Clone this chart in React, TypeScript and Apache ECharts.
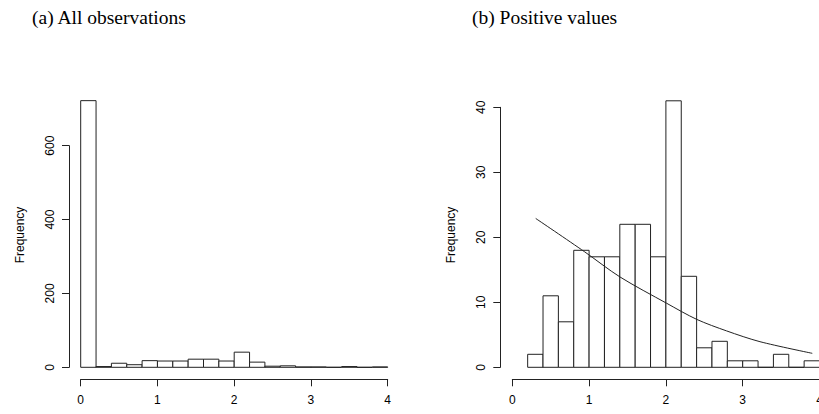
import React, { useEffect, useRef } from "react";
import * as echarts from "echarts";

// Histogram (a): all observations, bins of width 0.2 from 0 to 4
const binsAllLo = [0, 0.2, 0.4, 0.6, 0.8, 1.0, 1.2, 1.4, 1.6, 1.8, 2.0, 2.2, 2.4, 2.6, 2.8, 3.0, 3.2, 3.4, 3.6, 3.8];
const countsAll = [722, 2, 11, 7, 18, 17, 17, 22, 22, 17, 41, 14, 3, 4, 1, 1, 0, 2, 0, 1];

// Histogram (b): positive values, bins of width 0.2 from 0.2 to 4
const binsPosLo = [0.2, 0.4, 0.6, 0.8, 1.0, 1.2, 1.4, 1.6, 1.8, 2.0, 2.2, 2.4, 2.6, 2.8, 3.0, 3.2, 3.4, 3.6, 3.8];
const countsPos = [2, 11, 7, 18, 17, 17, 22, 22, 17, 41, 14, 3, 4, 1, 1, 0, 2, 0, 1];
const binWidth = 0.2;

// Fitted curve in (b)
const curveX = [0.305, 0.938, 1.402, 2.01, 2.4, 2.79, 3.225, 3.906];
const curveY = [22.9, 17.8, 13.9, 9.85, 7.38, 5.6, 3.94, 2.15];

const xTicks = [0, 1, 2, 3, 4];
const yTicksAll = [0, 200, 400, 600];
const yTicksPos = [0, 10, 20, 30, 40];

const titleA = "(a) All observations";
const titleB = "(b) Positive values";
const yName = "Frequency";

const INK = "#222222";
const SANS = "Liberation Sans, Arial, Helvetica, sans-serif";
const SERIF = "Liberation Serif, serif";

function histRender(params: any, api: any) {
  const x0 = api.value(0);
  const x1 = api.value(1);
  const h = api.value(2);
  const p0 = api.coord([x0, 0]);
  const p1 = api.coord([x1, h]);
  return {
    type: "rect",
    shape: { x: p0[0], y: p1[1], width: p1[0] - p0[0], height: p0[1] - p1[1] },
    style: { fill: "#ffffff", stroke: INK, lineWidth: 1 },
  };
}

export default function App() {
  const ref = useRef<HTMLDivElement>(null);
  useEffect(() => {
    document.body.style.margin = "0";
    if (!ref.current) return;
    const chart = echarts.init(ref.current, undefined, { renderer: "svg" });

    const dataAll = binsAllLo.map((lo, i) => [lo, lo + binWidth, countsAll[i]]);
    const dataPos = binsPosLo.map((lo, i) => [lo, lo + binWidth, countsPos[i]]);
    const curve = curveX.map((x, i) => [x, curveY[i]]);

    const xAxisBase = (gridIndex: number) => ({
      type: "value" as const,
      gridIndex,
      min: xTicks[0],
      max: xTicks[xTicks.length - 1],
      interval: 1,
      offset: 12,
      axisLine: { show: true, onZero: false, lineStyle: { color: INK, width: 1 } },
      axisTick: { show: true, length: 7, lineStyle: { color: INK, width: 1 } },
      axisLabel: { show: true, margin: 15, color: "#000", fontSize: 12, fontFamily: SANS, showMaxLabel: true, showMinLabel: true, hideOverlap: false },
      splitLine: { show: false },
    });

    const yAxisBase = (gridIndex: number, ticks: number[], offset: number, margin: number) => ({
      type: "value" as const,
      gridIndex,
      min: ticks[0],
      max: ticks[ticks.length - 1],
      interval: ticks[1] - ticks[0],
      offset,
      axisLine: { show: true, onZero: false, lineStyle: { color: INK, width: 1 } },
      axisTick: { show: true, length: 7, lineStyle: { color: INK, width: 1 } },
      axisLabel: { show: true, rotate: 90, margin, color: "#000", fontSize: 12, fontFamily: SANS },
      splitLine: { show: false },
    });

    chart.setOption({
      animation: false,
      backgroundColor: "#ffffff",
      grid: [
        { left: 80.7, right: 431.3, top: 145.7, bottom: 46.7, containLabel: false, outerBoundsMode: "none" },
        { left: 512.3, right: -0.5, top: 107.3, bottom: 46.7, containLabel: false, outerBoundsMode: "none" },
      ],
      xAxis: [xAxisBase(0), xAxisBase(1)],
      yAxis: [yAxisBase(0, yTicksAll, 11.7, 13), yAxisBase(1, yTicksPos, 12, 13)],
      graphic: [
        { type: "text", x: 32, y: 17, style: { text: titleA, font: `19.5px ${SERIF}`, fill: "#000", verticalAlign: "middle" } },
        { type: "text", x: 472, y: 17, style: { text: titleB, font: `19.5px ${SERIF}`, fill: "#000", verticalAlign: "middle" } },
        {
          type: "text", x: 20, y: 235, rotation: Math.PI / 2,
          style: { text: yName, font: `12px ${SANS}`, fill: "#000", align: "center", verticalAlign: "middle" },
        },
        {
          type: "text", x: 451, y: 235, rotation: Math.PI / 2,
          style: { text: yName, font: `12px ${SANS}`, fill: "#000", align: "center", verticalAlign: "middle" },
        },
      ],
      series: [
        {
          type: "custom",
          xAxisIndex: 0,
          yAxisIndex: 0,
          clip: false,
          renderItem: histRender,
          encode: { x: [0, 1], y: 2 },
          data: dataAll,
        },
        {
          type: "custom",
          xAxisIndex: 1,
          yAxisIndex: 1,
          clip: false,
          renderItem: histRender,
          encode: { x: [0, 1], y: 2 },
          data: dataPos,
        },
        {
          type: "line",
          xAxisIndex: 1,
          yAxisIndex: 1,
          data: curve,
          smooth: 0.3,
          symbol: "none",
          lineStyle: { color: INK, width: 1 },
        },
      ],
    });
    return () => chart.dispose();
  }, []);
  return <div ref={ref} style={{ width: 819, height: 414 }} />;
}
